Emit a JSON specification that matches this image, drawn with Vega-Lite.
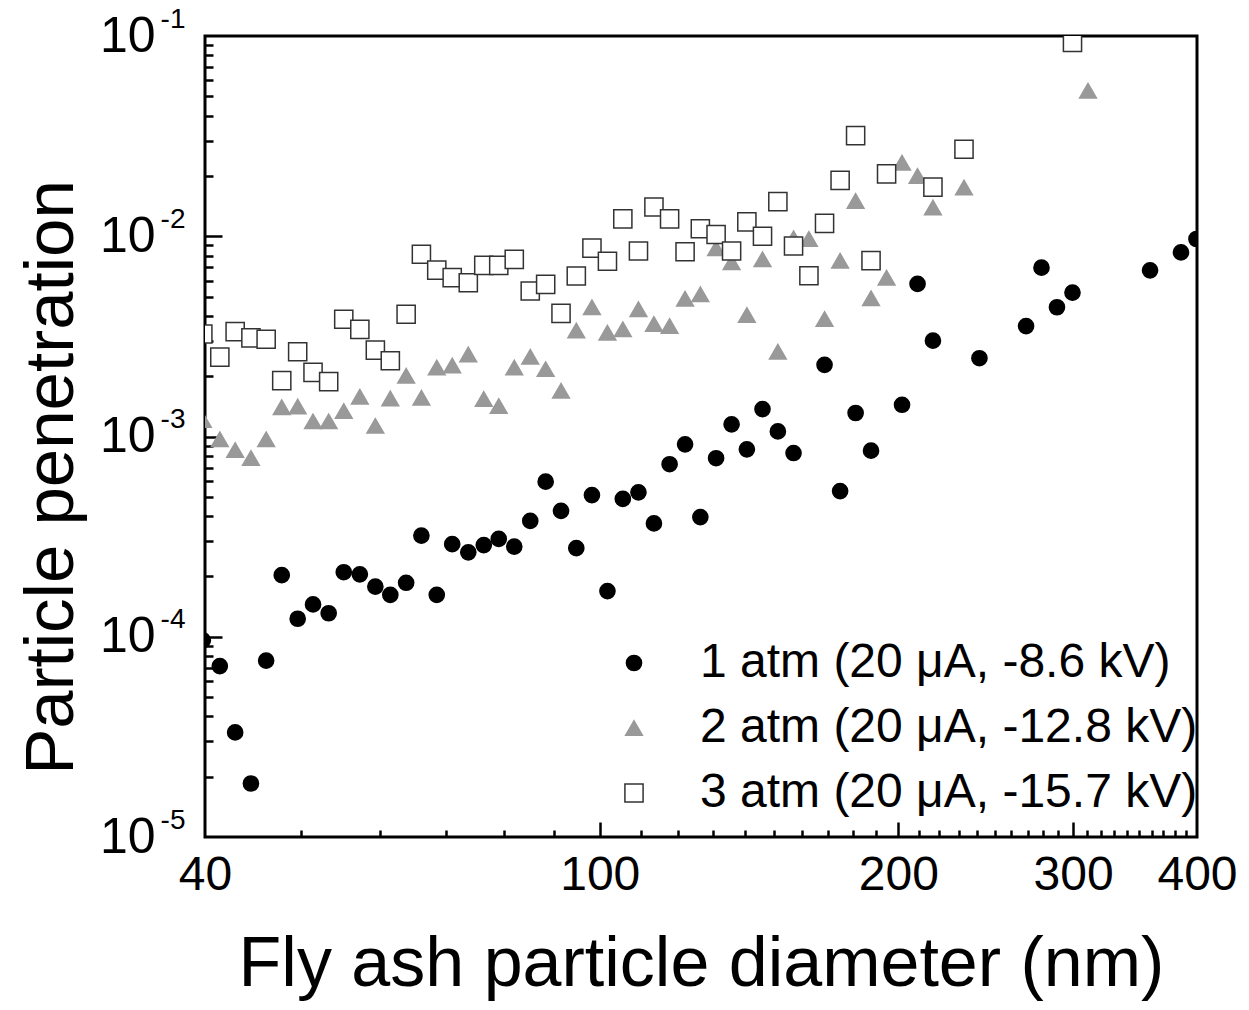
{
  "$schema": "https://vega.github.io/schema/vega-lite/v6.json",
  "width": 992,
  "height": 801,
  "autosize": {"type": "none"},
  "padding": {"left": 205, "top": 36, "right": 52, "bottom": 173},
  "background": "white",
  "config": {
    "view": {"stroke": "black", "strokeWidth": 3},
    "font": "Liberation Sans",
    "axis": {"domain": false, "grid": false, "labelColor": "black", "titleColor": "black", "tickColor": "black", "tickWidth": 2.5, "labelFont": "Liberation Sans", "titleFont": "Liberation Sans", "titleFontWeight": "normal"},
    "legend": {"labelFont": "Liberation Sans"}
  },
  "data": {"values": [
    {"s": "1 atm (20 μA, -8.6 kV)", "d": 39.8, "p": 9.6e-5},
    {"s": "1 atm (20 μA, -8.6 kV)", "d": 41.4, "p": 7.14e-5},
    {"s": "1 atm (20 μA, -8.6 kV)", "d": 42.9, "p": 3.33e-5},
    {"s": "1 atm (20 μA, -8.6 kV)", "d": 44.5, "p": 1.85e-5},
    {"s": "1 atm (20 μA, -8.6 kV)", "d": 46.1, "p": 7.6e-5},
    {"s": "1 atm (20 μA, -8.6 kV)", "d": 47.8, "p": 2.03e-4},
    {"s": "1 atm (20 μA, -8.6 kV)", "d": 49.6, "p": 1.23e-4},
    {"s": "1 atm (20 μA, -8.6 kV)", "d": 51.4, "p": 1.45e-4},
    {"s": "1 atm (20 μA, -8.6 kV)", "d": 53.3, "p": 1.31e-4},
    {"s": "1 atm (20 μA, -8.6 kV)", "d": 55.2, "p": 2.10e-4},
    {"s": "1 atm (20 μA, -8.6 kV)", "d": 57.3, "p": 2.05e-4},
    {"s": "1 atm (20 μA, -8.6 kV)", "d": 59.4, "p": 1.78e-4},
    {"s": "1 atm (20 μA, -8.6 kV)", "d": 61.5, "p": 1.62e-4},
    {"s": "1 atm (20 μA, -8.6 kV)", "d": 63.8, "p": 1.86e-4},
    {"s": "1 atm (20 μA, -8.6 kV)", "d": 66.1, "p": 3.2e-4},
    {"s": "1 atm (20 μA, -8.6 kV)", "d": 68.5, "p": 1.62e-4},
    {"s": "1 atm (20 μA, -8.6 kV)", "d": 71.0, "p": 2.9e-4},
    {"s": "1 atm (20 μA, -8.6 kV)", "d": 73.7, "p": 2.64e-4},
    {"s": "1 atm (20 μA, -8.6 kV)", "d": 76.4, "p": 2.87e-4},
    {"s": "1 atm (20 μA, -8.6 kV)", "d": 79.1, "p": 3.08e-4},
    {"s": "1 atm (20 μA, -8.6 kV)", "d": 82.0, "p": 2.82e-4},
    {"s": "1 atm (20 μA, -8.6 kV)", "d": 85.1, "p": 3.79e-4},
    {"s": "1 atm (20 μA, -8.6 kV)", "d": 88.2, "p": 5.95e-4},
    {"s": "1 atm (20 μA, -8.6 kV)", "d": 91.4, "p": 4.25e-4},
    {"s": "1 atm (20 μA, -8.6 kV)", "d": 94.7, "p": 2.77e-4},
    {"s": "1 atm (20 μA, -8.6 kV)", "d": 98.2, "p": 5.1e-4},
    {"s": "1 atm (20 μA, -8.6 kV)", "d": 101.8, "p": 1.69e-4},
    {"s": "1 atm (20 μA, -8.6 kV)", "d": 105.5, "p": 4.88e-4},
    {"s": "1 atm (20 μA, -8.6 kV)", "d": 109.4, "p": 5.26e-4},
    {"s": "1 atm (20 μA, -8.6 kV)", "d": 113.4, "p": 3.68e-4},
    {"s": "1 atm (20 μA, -8.6 kV)", "d": 117.6, "p": 7.27e-4},
    {"s": "1 atm (20 μA, -8.6 kV)", "d": 121.9, "p": 9.14e-4},
    {"s": "1 atm (20 μA, -8.6 kV)", "d": 126.3, "p": 3.96e-4},
    {"s": "1 atm (20 μA, -8.6 kV)", "d": 131.0, "p": 7.79e-4},
    {"s": "1 atm (20 μA, -8.6 kV)", "d": 135.8, "p": 1.15e-3},
    {"s": "1 atm (20 μA, -8.6 kV)", "d": 140.7, "p": 8.63e-4},
    {"s": "1 atm (20 μA, -8.6 kV)", "d": 145.9, "p": 1.37e-3},
    {"s": "1 atm (20 μA, -8.6 kV)", "d": 151.2, "p": 1.06e-3},
    {"s": "1 atm (20 μA, -8.6 kV)", "d": 156.8, "p": 8.27e-4},
    {"s": "1 atm (20 μA, -8.6 kV)", "d": 168.5, "p": 2.28e-3},
    {"s": "1 atm (20 μA, -8.6 kV)", "d": 174.7, "p": 5.34e-4},
    {"s": "1 atm (20 μA, -8.6 kV)", "d": 181.1, "p": 1.31e-3},
    {"s": "1 atm (20 μA, -8.6 kV)", "d": 187.7, "p": 8.5e-4},
    {"s": "1 atm (20 μA, -8.6 kV)", "d": 201.7, "p": 1.44e-3},
    {"s": "1 atm (20 μA, -8.6 kV)", "d": 209.1, "p": 5.78e-3},
    {"s": "1 atm (20 μA, -8.6 kV)", "d": 216.7, "p": 3.01e-3},
    {"s": "1 atm (20 μA, -8.6 kV)", "d": 241.4, "p": 2.46e-3},
    {"s": "1 atm (20 μA, -8.6 kV)", "d": 269.0, "p": 3.56e-3},
    {"s": "1 atm (20 μA, -8.6 kV)", "d": 278.8, "p": 6.97e-3},
    {"s": "1 atm (20 μA, -8.6 kV)", "d": 289.0, "p": 4.42e-3},
    {"s": "1 atm (20 μA, -8.6 kV)", "d": 299.6, "p": 5.23e-3},
    {"s": "1 atm (20 μA, -8.6 kV)", "d": 358.7, "p": 6.76e-3},
    {"s": "1 atm (20 μA, -8.6 kV)", "d": 385.4, "p": 8.31e-3},
    {"s": "1 atm (20 μA, -8.6 kV)", "d": 399.5, "p": 9.69e-3},
    {"s": "2 atm (20 μA, -12.8 kV)", "d": 39.8, "p": 1.21e-3},
    {"s": "2 atm (20 μA, -12.8 kV)", "d": 41.4, "p": 9.68e-4},
    {"s": "2 atm (20 μA, -12.8 kV)", "d": 42.9, "p": 8.56e-4},
    {"s": "2 atm (20 μA, -12.8 kV)", "d": 44.5, "p": 7.81e-4},
    {"s": "2 atm (20 μA, -12.8 kV)", "d": 46.1, "p": 9.68e-4},
    {"s": "2 atm (20 μA, -12.8 kV)", "d": 47.8, "p": 1.40e-3},
    {"s": "2 atm (20 μA, -12.8 kV)", "d": 49.6, "p": 1.41e-3},
    {"s": "2 atm (20 μA, -12.8 kV)", "d": 51.4, "p": 1.19e-3},
    {"s": "2 atm (20 μA, -12.8 kV)", "d": 53.3, "p": 1.19e-3},
    {"s": "2 atm (20 μA, -12.8 kV)", "d": 55.2, "p": 1.34e-3},
    {"s": "2 atm (20 μA, -12.8 kV)", "d": 57.3, "p": 1.58e-3},
    {"s": "2 atm (20 μA, -12.8 kV)", "d": 59.4, "p": 1.13e-3},
    {"s": "2 atm (20 μA, -12.8 kV)", "d": 61.5, "p": 1.55e-3},
    {"s": "2 atm (20 μA, -12.8 kV)", "d": 63.8, "p": 2.01e-3},
    {"s": "2 atm (20 μA, -12.8 kV)", "d": 66.1, "p": 1.56e-3},
    {"s": "2 atm (20 μA, -12.8 kV)", "d": 68.5, "p": 2.21e-3},
    {"s": "2 atm (20 μA, -12.8 kV)", "d": 71.0, "p": 2.26e-3},
    {"s": "2 atm (20 μA, -12.8 kV)", "d": 73.7, "p": 2.57e-3},
    {"s": "2 atm (20 μA, -12.8 kV)", "d": 76.4, "p": 1.54e-3},
    {"s": "2 atm (20 μA, -12.8 kV)", "d": 79.1, "p": 1.42e-3},
    {"s": "2 atm (20 μA, -12.8 kV)", "d": 82.0, "p": 2.21e-3},
    {"s": "2 atm (20 μA, -12.8 kV)", "d": 85.1, "p": 2.50e-3},
    {"s": "2 atm (20 μA, -12.8 kV)", "d": 88.2, "p": 2.17e-3},
    {"s": "2 atm (20 μA, -12.8 kV)", "d": 91.4, "p": 1.69e-3},
    {"s": "2 atm (20 μA, -12.8 kV)", "d": 94.7, "p": 3.38e-3},
    {"s": "2 atm (20 μA, -12.8 kV)", "d": 98.2, "p": 4.42e-3},
    {"s": "2 atm (20 μA, -12.8 kV)", "d": 101.8, "p": 3.30e-3},
    {"s": "2 atm (20 μA, -12.8 kV)", "d": 105.5, "p": 3.43e-3},
    {"s": "2 atm (20 μA, -12.8 kV)", "d": 109.4, "p": 4.32e-3},
    {"s": "2 atm (20 μA, -12.8 kV)", "d": 113.4, "p": 3.65e-3},
    {"s": "2 atm (20 μA, -12.8 kV)", "d": 117.6, "p": 3.56e-3},
    {"s": "2 atm (20 μA, -12.8 kV)", "d": 121.9, "p": 4.88e-3},
    {"s": "2 atm (20 μA, -12.8 kV)", "d": 126.3, "p": 5.13e-3},
    {"s": "2 atm (20 μA, -12.8 kV)", "d": 131.0, "p": 8.71e-3},
    {"s": "2 atm (20 μA, -12.8 kV)", "d": 135.8, "p": 7.41e-3},
    {"s": "2 atm (20 μA, -12.8 kV)", "d": 140.7, "p": 4.04e-3},
    {"s": "2 atm (20 μA, -12.8 kV)", "d": 145.9, "p": 7.67e-3},
    {"s": "2 atm (20 μA, -12.8 kV)", "d": 151.2, "p": 2.65e-3},
    {"s": "2 atm (20 μA, -12.8 kV)", "d": 156.8, "p": 9.77e-3},
    {"s": "2 atm (20 μA, -12.8 kV)", "d": 162.5, "p": 9.69e-3},
    {"s": "2 atm (20 μA, -12.8 kV)", "d": 168.5, "p": 3.86e-3},
    {"s": "2 atm (20 μA, -12.8 kV)", "d": 174.7, "p": 7.55e-3},
    {"s": "2 atm (20 μA, -12.8 kV)", "d": 181.1, "p": 1.50e-2},
    {"s": "2 atm (20 μA, -12.8 kV)", "d": 187.7, "p": 4.90e-3},
    {"s": "2 atm (20 μA, -12.8 kV)", "d": 194.6, "p": 6.21e-3},
    {"s": "2 atm (20 μA, -12.8 kV)", "d": 201.7, "p": 2.33e-2},
    {"s": "2 atm (20 μA, -12.8 kV)", "d": 209.1, "p": 2.00e-2},
    {"s": "2 atm (20 μA, -12.8 kV)", "d": 216.7, "p": 1.39e-2},
    {"s": "2 atm (20 μA, -12.8 kV)", "d": 232.9, "p": 1.75e-2},
    {"s": "2 atm (20 μA, -12.8 kV)", "d": 310.6, "p": 5.33e-2},
    {"s": "3 atm (20 μA, -15.7 kV)", "d": 39.8, "p": 3.25e-3},
    {"s": "3 atm (20 μA, -15.7 kV)", "d": 41.4, "p": 2.49e-3},
    {"s": "3 atm (20 μA, -15.7 kV)", "d": 42.9, "p": 3.34e-3},
    {"s": "3 atm (20 μA, -15.7 kV)", "d": 44.5, "p": 3.11e-3},
    {"s": "3 atm (20 μA, -15.7 kV)", "d": 46.1, "p": 3.06e-3},
    {"s": "3 atm (20 μA, -15.7 kV)", "d": 47.8, "p": 1.90e-3},
    {"s": "3 atm (20 μA, -15.7 kV)", "d": 49.6, "p": 2.65e-3},
    {"s": "3 atm (20 μA, -15.7 kV)", "d": 51.4, "p": 2.09e-3},
    {"s": "3 atm (20 μA, -15.7 kV)", "d": 53.3, "p": 1.88e-3},
    {"s": "3 atm (20 μA, -15.7 kV)", "d": 55.2, "p": 3.85e-3},
    {"s": "3 atm (20 μA, -15.7 kV)", "d": 57.3, "p": 3.43e-3},
    {"s": "3 atm (20 μA, -15.7 kV)", "d": 59.4, "p": 2.70e-3},
    {"s": "3 atm (20 μA, -15.7 kV)", "d": 61.5, "p": 2.39e-3},
    {"s": "3 atm (20 μA, -15.7 kV)", "d": 63.8, "p": 4.08e-3},
    {"s": "3 atm (20 μA, -15.7 kV)", "d": 66.1, "p": 8.13e-3},
    {"s": "3 atm (20 μA, -15.7 kV)", "d": 68.5, "p": 6.78e-3},
    {"s": "3 atm (20 μA, -15.7 kV)", "d": 71.0, "p": 6.21e-3},
    {"s": "3 atm (20 μA, -15.7 kV)", "d": 73.7, "p": 5.86e-3},
    {"s": "3 atm (20 μA, -15.7 kV)", "d": 76.4, "p": 7.16e-3},
    {"s": "3 atm (20 μA, -15.7 kV)", "d": 79.1, "p": 7.16e-3},
    {"s": "3 atm (20 μA, -15.7 kV)", "d": 82.0, "p": 7.67e-3},
    {"s": "3 atm (20 μA, -15.7 kV)", "d": 85.1, "p": 5.33e-3},
    {"s": "3 atm (20 μA, -15.7 kV)", "d": 88.2, "p": 5.75e-3},
    {"s": "3 atm (20 μA, -15.7 kV)", "d": 91.4, "p": 4.12e-3},
    {"s": "3 atm (20 μA, -15.7 kV)", "d": 94.7, "p": 6.33e-3},
    {"s": "3 atm (20 μA, -15.7 kV)", "d": 98.2, "p": 8.73e-3},
    {"s": "3 atm (20 μA, -15.7 kV)", "d": 101.8, "p": 7.50e-3},
    {"s": "3 atm (20 μA, -15.7 kV)", "d": 105.5, "p": 1.22e-2},
    {"s": "3 atm (20 μA, -15.7 kV)", "d": 109.4, "p": 8.44e-3},
    {"s": "3 atm (20 μA, -15.7 kV)", "d": 113.4, "p": 1.40e-2},
    {"s": "3 atm (20 μA, -15.7 kV)", "d": 117.6, "p": 1.22e-2},
    {"s": "3 atm (20 μA, -15.7 kV)", "d": 121.9, "p": 8.37e-3},
    {"s": "3 atm (20 μA, -15.7 kV)", "d": 126.3, "p": 1.09e-2},
    {"s": "3 atm (20 μA, -15.7 kV)", "d": 131.0, "p": 1.02e-2},
    {"s": "3 atm (20 μA, -15.7 kV)", "d": 135.8, "p": 8.44e-3},
    {"s": "3 atm (20 μA, -15.7 kV)", "d": 140.7, "p": 1.18e-2},
    {"s": "3 atm (20 μA, -15.7 kV)", "d": 145.9, "p": 1.00e-2},
    {"s": "3 atm (20 μA, -15.7 kV)", "d": 151.2, "p": 1.49e-2},
    {"s": "3 atm (20 μA, -15.7 kV)", "d": 156.8, "p": 8.94e-3},
    {"s": "3 atm (20 μA, -15.7 kV)", "d": 162.5, "p": 6.35e-3},
    {"s": "3 atm (20 μA, -15.7 kV)", "d": 168.5, "p": 1.16e-2},
    {"s": "3 atm (20 μA, -15.7 kV)", "d": 174.7, "p": 1.90e-2},
    {"s": "3 atm (20 μA, -15.7 kV)", "d": 181.1, "p": 3.18e-2},
    {"s": "3 atm (20 μA, -15.7 kV)", "d": 187.7, "p": 7.55e-3},
    {"s": "3 atm (20 μA, -15.7 kV)", "d": 194.6, "p": 2.05e-2},
    {"s": "3 atm (20 μA, -15.7 kV)", "d": 216.7, "p": 1.76e-2},
    {"s": "3 atm (20 μA, -15.7 kV)", "d": 232.9, "p": 2.72e-2},
    {"s": "3 atm (20 μA, -15.7 kV)", "d": 299.6, "p": 9.3e-2}
  ]},
  "layer": [
    {
      "mark": {"type": "point", "clip": true, "strokeWidth": 1.5, "opacity": 1},
      "encoding": {
        "x": {"field": "d", "type": "quantitative",
          "scale": {"type": "log", "domain": [40, 400], "nice": false, "zero": false},
          "axis": {"orient": "bottom", "values": [40, 100, 200, 300, 400], "ticks": false, "labelExpr": "datum.value", "labelFontSize": 48, "labelPadding": 14, "labelFlush": false, "labelOverlap": false,
            "title": "Fly ash particle diameter (nm)", "titleFontSize": 70, "titleBaseline": "alphabetic", "titleX": 496, "titleY": 148, "titleAnchor": "middle"}},
        "y": {"field": "p", "type": "quantitative",
          "scale": {"type": "log", "domain": [0.00001, 0.1], "nice": false, "zero": false},
          "axis": {"orient": "left", "values": [0.00001, 0.0001, 0.001, 0.01, 0.1], "ticks": false, "labelExpr": "'10'", "labelFontSize": 50, "labelPadding": 50, "labelFlush": false, "labelOverlap": false, "labelBaseline": "middle",
            "title": "Particle penetration", "titleFontSize": 69, "titleAngle": -90, "titleBaseline": "alphabetic", "titleAlign": "center", "titleX": -133, "titleY": 441}},
        "shape": {"field": "s", "type": "nominal", "scale": {"range": ["circle", "triangle-up", "square"]},
          "legend": {"orient": "none", "legendX": 405, "legendY": 603, "title": null, "labelFontSize": 48, "labelOffset": 42, "rowPadding": 17, "padding": 0, "labelColor": "black", "labelLimit": 700}},
        "fill": {"field": "s", "type": "nominal", "scale": {"range": ["black", "#999999", "white"]}},
        "stroke": {"field": "s", "type": "nominal", "scale": {"range": ["black", "#999999", "#333333"]}},
        "size": {"field": "s", "type": "nominal", "scale": {"range": [230, 330, 200]}}
      }
    },
    {
      "mark": {"type": "point", "opacity": 0},
      "encoding": {
        "x": {"field": "d", "type": "quantitative", "axis": {"orient": "bottom", "values": [100, 200, 300], "labels": false, "tickSize": -15, "title": null}},
        "y": {"field": "p", "type": "quantitative", "axis": {"orient": "left", "values": [0.0001, 0.001, 0.01], "labels": false, "tickSize": -17, "title": null}}
      }
    },
    {
      "mark": {"type": "point", "opacity": 0},
      "encoding": {
        "x": {"field": "d", "type": "quantitative", "axis": {"orient": "bottom", "values": [50, 60, 70, 80, 90, 110, 120, 130, 140, 150, 160, 170, 180, 190, 210, 220, 230, 240, 250, 260, 270, 280, 290, 310, 320, 330, 340, 350, 360, 370, 380, 390], "labels": false, "tickSize": -7, "title": null}},
        "y": {"field": "p", "type": "quantitative", "axis": {"orient": "left", "values": [0.00002, 0.00003, 0.00004, 0.00005, 0.00006, 0.00007, 0.00008, 0.00009, 0.0002, 0.0003, 0.0004, 0.0005, 0.0006, 0.0007, 0.0008, 0.0009, 0.002, 0.003, 0.004, 0.005, 0.006, 0.007, 0.008, 0.009, 0.02, 0.03, 0.04, 0.05, 0.06, 0.07, 0.08, 0.09], "labels": false, "tickSize": -8, "title": null}}
      }
    },
    {
      "mark": {"type": "point", "opacity": 0},
      "encoding": {
        "x": {"field": "d", "type": "quantitative", "axis": null},
        "y": {"field": "p", "type": "quantitative", "axis": {"orient": "left", "values": [0.00001, 0.0001, 0.001, 0.01, 0.1], "ticks": false, "labelExpr": "'-' + round(-log(datum.value)/LN10)", "labelFontSize": 28, "labelPadding": 20, "labelOffset": -17, "labelFlush": false, "labelOverlap": false, "labelBaseline": "middle", "title": null}}
      }
    }
  ],
  "resolve": {"scale": {"x": "shared", "y": "shared"}, "axis": {"x": "independent", "y": "independent"}}
}
